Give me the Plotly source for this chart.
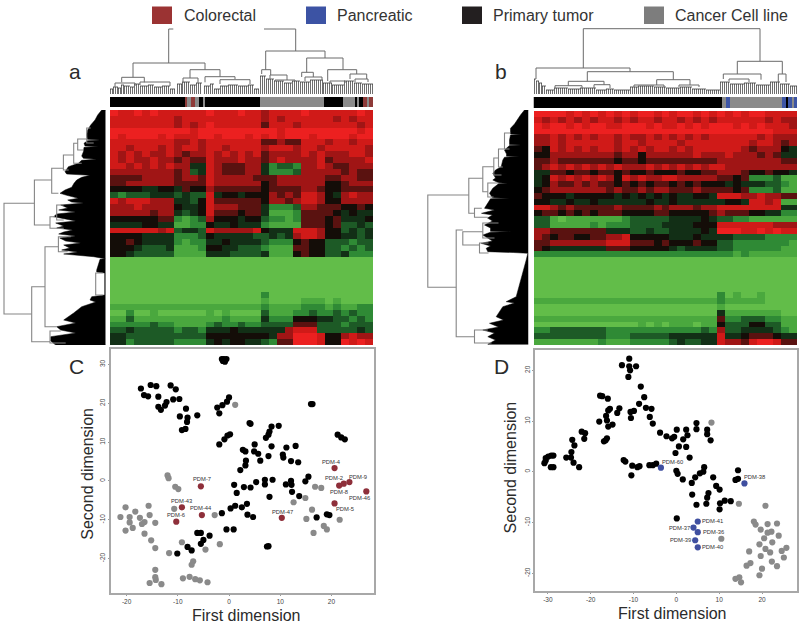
import plotly.graph_objects as go

# ---------- legend ----------
legend_names = ["Colorectal", "Pancreatic", "Primary tumor", "Cancer Cell line"]
legend_colors = ["#9b3333", "#3c53a4", "#231f20", "#7d7d7d"]

# ---------- panel C scatter ----------
c_tumor_x = [-1.4,-1.0,-0.5,-1.2,-0.8,-17.2,-15.3,-14.2,-11.4,-10.4,-16.6,-15.8,-13.8,-10.9,-9.7,0,-0.4,-1.3,-2.3,-1.9,-13.8,-13.3,-12.5,-12.2,-8.4,-9.6,-8.1,-8.2,-6.2,-9.2,-8.5,4.0,4.2,8.3,9.7,7.9,7.7,7.2,0.2,-0.3,-0.9,-1.9,2.7,3.2,5.0,4.9,5.7,6.1,7.7,8.3,11.2,13.0,10.5,10.6,12.1,13.5,3.3,3.2,2.2,21.2,21.9,22.6,16.0,16.3,15.5,14.9,12.1,12.2,11.1,7.0,7.0,8.5,5.3,1.0,2.9,4.2,1.5,12.3,7.9,13.7,3.5,2.5,1.2,0.3,-1.4,3.6,4.7,17.1,19.1,19.6,-0.5,0.9,-6.2,-5.5,-3.8,-5.0,-5.5,-8.1,-7.3,-10.1,7.4,7.7]
c_tumor_y = [31.4,31.4,31.4,30.9,30.7,23.8,24.7,24.4,24.6,23.6,22.1,21.8,21.7,21.0,21.1,21.5,20.4,19.5,18.9,17.4,19.1,18.3,19.4,20.3,18.6,16.6,16.3,15.2,16.9,13.1,13.4,14.9,14.7,14.0,14.2,12.7,11.9,11.1,12.0,11.7,10.7,9.4,8.0,7.6,9.4,7.6,7.0,5.2,6.4,8.9,8.6,9.0,6.8,6.0,5.1,4.8,5.2,4.0,2.8,11.9,11.2,10.7,19.8,19.8,1.1,-0.1,0,-1.0,-0.9,0.3,-0.9,0.3,-0.3,-1.0,-1.6,-1.7,-3.1,-2.8,-4.1,-3.9,-5.9,-6.8,-6.4,-7.1,-8.3,-8.7,-9.3,-9.4,-8.6,-8.8,-12.5,-12.5,-13.4,-13.4,-14.1,-15.2,-16.2,-17.0,-17.9,-18.7,-16.9,-16.8]
c_line_x = [1.2,-12.0,-11.8,-10.5,-9.9,16.8,18.0,14.9,12.6,-15.7,-20.2,-18.3,-10.7,-2.8,-15.5,-21.2,-19.4,-17.4,-19.4,-16.5,-17.0,-14.4,-18.8,-20.2,-16.5,-15.2,-14.4,-11.7,-9.2,-4.6,-1.8,16.2,15.1,21.6,18.5,19.1,16.5,-7.0,-7.3,-14.4,-14.4,-14.3,-15.5,-13.2,-9.0,-7.7,-6.6,-5.7,-4.2]
c_line_y = [19.6,1.4,0.7,-1.5,-2.1,-1.5,-1.8,-4.4,-5.5,-6.4,-6.8,-7.9,-7.2,-8.8,-8.8,-9.3,-9.3,-9.5,-10.7,-10.6,-11.1,-10.8,-12.1,-12.8,-13.6,-15.3,-17.3,-18.6,-15.8,-17.7,-16.3,-7.4,-9.8,-10.0,-11.6,-12.5,-13.4,-20.7,-21.6,-22.9,-24.8,-25.5,-26.3,-26.6,-25.1,-24.7,-25.3,-25.6,-26.1]
c_pdm_names = ["PDM-4","PDM-7","PDM-2","PDM-8","PDM-9","PDM-46","PDM-5","PDM-43","PDM-44","PDM-6","PDM-47"]
c_pdm_x = [20.6,-5.5,21.5,22.4,23.5,26.8,20.6,-9.2,-5.3,-10.3,10.3]
c_pdm_y = [3.3,-1.4,-1.2,-0.7,-0.3,-2.7,-5.8,-6.8,-8.8,-10.5,-9.5]
c_label_x = [20.1,-5.3,20.4,21.5,25.1,25.4,22.6,-9.2,-5.5,-10.4,10.4]
c_label_y = [4.9,0.4,0.7,-2.8,1.0,-4.5,-7.2,-5.2,-7.0,-8.8,-8.0]

# ---------- panel D scatter ----------
d_tumor_x = [-11.0,-12.7,-11.0,-9.4,-10.8,-11.2,-8.3,-7.5,-8.7,-17.8,-17.3,-16.0,-13.3,-15.5,-15.9,-16.4,-13.8,-7.1,-5.8,-10.7,-9.9,-10.6,-6.2,-5.5,-18.0,-16.2,-14.9,-15.9,-22.1,-21.3,-21.5,-16.2,-16.5,-16.9,-3.8,-2.3,-1.0,-0.5,0.1,2.3,2.6,1.6,4.7,4.7,7.2,7.2,8.0,0.6,2.3,-0.2,3.1,-24.3,-23.8,-24.5,-25.7,-24.6,-24.0,-22.7,-29.2,-28.7,-29.9,-30.5,-30.5,-30.8,-29.3,-28.7,-12.3,-11.9,-10.3,-10.5,-9.1,-8.6,-6.3,-5.5,-4.7,0,0.3,1.5,4.4,5.5,6.3,6.5,8.6,3.6,9.3,10.1,3.7,7.5,7.2,7.0,4.7,10.2,11.3,12.7,10.1,0.1,14.4,13.8,14.4]
d_tumor_y = [22.3,21.0,20.8,20.8,20.0,18.7,16.8,14.7,13.4,15.0,14.9,14.4,12.5,12.4,12.1,11.0,11.6,12.6,12.4,11.8,12.0,10.6,10.8,9.5,9.9,10.1,9.3,8.9,7.9,7.6,6.5,6.6,6.2,6.0,7.7,7.0,6.6,6.9,8.3,8.3,7.2,6.4,9.6,8.4,8.3,7.4,6.2,5.0,4.9,3.7,2.8,6.3,5.2,3.9,2.8,2.8,1.8,0.9,3.2,3.2,3.0,2.7,2.2,1.7,0.9,0.9,2.3,2.0,1.2,-0.7,0.9,1.1,1.3,1.3,1.6,0.2,-0.4,-1.5,-1.1,-0.3,0,0.9,-1.1,-2.2,-2.8,-3.5,-4.5,-4.2,-5.1,-6.3,-6.5,-6.2,-5.7,-5.8,-7.4,-9.2,0.3,-1.6,-1.4]
d_line_x = [8.2,14.6,20.8,10.5,18.1,18.5,21.3,23.5,19.7,21.3,22.2,23.9,20.5,22.4,19.4,20.8,21.9,17.0,19.7,24.6,25.7,25.1,22.3,17.3,16.4,20.0,23.5,19.4,13.8,14.7,15.1]
d_line_y = [9.7,-6.3,-6.7,-13.2,-9.8,-10.4,-10.3,-10.2,-11.4,-12.0,-11.8,-12.6,-13.1,-13.9,-14.3,-15.2,-15.9,-15.7,-16.6,-15.6,-15.0,-16.9,-17.7,-18.0,-18.5,-19.1,-18.6,-20.4,-21.1,-20.8,-21.8]
d_pdm_names = ["PDM-60","PDM-38","PDM-41","PDM-37","PDM-36","PDM-39","PDM-40"]
d_pdm_x = [-3.6,15.9,5.0,4.0,5.0,4.4,5.0]
d_pdm_y = [0.8,-2.3,-9.8,-11.0,-11.9,-13.5,-14.9]
d_label_x = [-0.9,18.3,8.4,0.7,8.6,0.9,8.4]
d_label_y = [1.9,-1.1,-9.8,-11.0,-11.9,-13.5,-14.9]

# ---------- heatmaps: digit 0 = green, 5 = black, 9 = red ----------
heat_a_rows = [
"98898988 8888 9 888988 7 8888 988 88 8898",
"88888888 7888 8 888888 7 8788 888 87 8788",
"88888888 7878 9 888888 6 8887 888 88 8878",
"99999999 9989 9 999999 9 9899 999 99 9989",
"98999989 8889 9 899989 8 9899 989 99 9899",
"88888888 7787 8 888888 6 6766 888 78 8788",
"88788878 7887 8 878888 7 8887 887 88 8887",
"87878778 7677 8 787878 6 7777 878 77 7887",
"87877877 6766 8 777877 6 7877 778 67 7778",
"88787878 7744 8 766677 4 2332 778 76 6777",
"77777777 6734 8 766677 4 2223 777 77 6766",
"66667777 6776 8 777776 6 6777 777 66 7766",
"66777777 6666 8 777777 5 6777 777 55 6777",
"55554455 4655 7 666666 5 6666 776 55 6666",
"32333444 3433 8 455455 5 7676 887 54 7877",
"87888777 4435 8 666666 5 7767 887 55 7777",
"77787777 5445 8 777666 4 2223 776 66 5565",
"77777677 4345 8 666566 4 1112 666 65 4544",
"55555566 2123 7 555455 3 2212 666 56 4445",
"44445544 1122 5 445444 2 1111 666 56 3343",
"88888878 3443 8 777778 5 4448 887 55 3434",
"55554444 2223 5 444443 3 4347 887 55 4434",
"55654444 2122 4 454444 3 2225 655 33 3233",
"55543334 1112 5 544333 2 1116 655 33 2323",
"55433333 1111 4 443333 4 1115 655 33 4222",
"00000000 0000 0 000000 0 0000 000 00 0000",
"00000000 0000 0 000000 0 0000 000 00 0000",
"00000000 0000 0 000000 0 0000 000 00 0000",
"00000000 0000 0 000000 0 0000 000 00 0000",
"00000000 0000 0 000000 0 0000 000 00 0000",
"00000000 0000 0 000000 0 0000 000 00 0000",
"00000000 0000 0 000000 2 0000 000 00 0000",
"00000000 0000 0 000000 1 0000 111 01 0000",
"11111111 1111 1 111111 2 1111 222 12 1122",
"00200100 0000 1 010000 3 1112 232 23 2322",
"11311111 1111 1 121111 4 2225 554 43 3232",
"22222322 1111 2 322322 3 3336 663 33 2333",
"33433333 2332 4 445444 4 4478 883 33 3343",
"44333333 3333 5 555555 5 4779 998 55 7877",
"44233333 2222 4 545544 3 2669 998 55 9898",
]
heat_b_rows = [
"99 9989898 989 89989 899898 9898 9988 88",
"87 8787878 878 78878 878787 8888 8878 77",
"98 9989899 889 99898 898989 9989 8988 87",
"99 9999999 999 99999 999999 9999 9998 88",
"77 8787878 878 77878 787878 8888 8787 77",
"77 8788888 878 87888 878888 8888 7887 67",
"65 8787878 878 78788 787888 8887 6777 54",
"55 7777777 767 75777 777877 7877 7676 44",
"66 7666666 656 65666 666666 7777 7777 66",
"67 8787878 787 77878 787878 8777 7777 77",
"44 6656656 656 55655 565566 7776 5565 54",
"45 8787878 758 78778 877777 6656 2223 11",
"45 7667676 656 56566 565655 5454 4433 21",
"56 7777777 676 67677 666766 6656 2223 11",
"65 5545555 545 45454 544554 8887 7877 66",
"55 4454454 444 44544 544444 4554 8878 11",
"88 7676666 676 66676 777677 8888 8888 44",
"56 6565656 665 55566 555556 7666 5544 22",
"33 1011111 112 33333 444454 3322 1111 11",
"33 1111121 222 33334 444555 8888 8887 77",
"77 6666666 444 33433 444454 9998 8989 88",
"76 5665566 778 55555 444544 4433 3322 22",
"66 7777777 888 66656 555655 3322 2222 21",
"65 4444444 666 55555 434444 3322 2222 11",
"22 2222222 222 22222 222222 2212 1111 11",
"00 0000000 000 00000 000000 0000 0000 00",
"00 0000000 000 00000 000000 0000 0000 00",
"00 0000000 000 00000 000000 0000 0000 00",
"00 0000000 000 00000 000000 0000 0000 00",
"00 0000000 000 00000 000000 0000 0000 00",
"00 0000000 000 00000 000000 0000 0000 00",
"00 0000000 000 00000 000000 2010 0100 00",
"11 1111111 111 11111 111111 2111 1100 00",
"00 0000000 000 00000 000000 1000 0000 00",
"00 0000000 000 00000 000000 4111 1111 00",
"11 1111111 111 11111 111111 6223 3322 11",
"00 0000000 000 01010 111011 5333 5533 11",
"22 3333333 222 22222 222232 7334 4443 21",
"33 3333333 222 33333 444444 8445 6665 44",
"11 1111112 111 22222 343344 8776 8998 66",
]

# ---------- sample annotation strips: (type, number of samples); 0 tumor, 1 line, 2 CRC, 3 PDAC ----------
strip_a_runs = [(0,38),(2,1),(1,2),(2,2),(1,2),(0,2),(1,1),(0,28),(1,32),(0,10),(1,6),(0,1),(1,1),(0,2),(2,2),(1,1),(2,2)]
strip_b_runs = [(0,94),(1,2),(3,2),(1,26),(3,2),(0,1),(3,2),(1,1),(3,2)]

# ---------- dendrograms: bracket = (height, pos_low, height_low, pos_high, height_high) ----------
top_a_brackets = [
 (31,23,16.7,95,24.3),(16.7,11.7,11.7,34.3,11.7),(24.3,80,16,110,17.3),(17.3,95,11.7,125,15),
 (14.3,110,10,140,10),(16,73,11,88,11),(43,155.7,24.3,215,36),(36,196.7,21.7,233,24.3),
 (24.3,151.7,20,160.7,19),(21.7,191.7,17,203.3,17),(24.3,217.7,13,246.7,20),(20,240,15,256.7,15),
 (19,160,14,177,14),(11,5,7,25,8),(12,30,9,60,8),(15,245,12,258,12),(14,165,13,185,13),
 (17,195,13,212,13),(13,220,11,235,11),
]
top_a_stubs = [(58.7,31,58.7,65),(58.7,65,63.3,65),(154,65,185.7,65),(185.7,65,185.7,43)]
top_a_leaves = [(0,3,5),(3,8,7),(8,11,6),(11,14,9),(14,20,8),(20,24,7),(24,30,10),(30,38,8),(38,44,9),(44,52,7),(52,60,8),(60,65,5),(67,72,10),(72,80,12),(80,86,9),(86,92,11),(94,100,8),(100,104,10),(104,110,5),(110,118,8),(118,128,9),(128,138,8),(138,144,9),(144,149,5),(150,156,18),(156,164,15),(164,174,13),(174,182,11),(182,190,13),(190,200,12),(200,213,14),(213,222,11),(222,234,9),(234,244,13),(244,252,11),(252,263,10)]

top_b_brackets = [
 (65.3,49.3,26,226,32.7),(26,2,15,96,22.3),(22.3,53.3,12.7,139.3,14.3),(12.7,34.3,8.3,70,9.3),
 (14.3,122.7,9,156,9),(8.3,21,5.5,48,5.5),(32.7,203.3,20,248.3,20),(20,189.3,15,227,14.3),
 (20,244.3,12,252,12),(15,195,13,215,12),(9.3,60,6,76,6),(9,100,7,130,7),(9,145,7,165,7),
]
top_b_stubs = []
top_b_leaves = [(0,2,15),(2,5,13),(5,8,11),(8,12,8),(12,20,4),(20,34,6),(34,46,5),(46,62,6),(62,72,4),(72,80,5),(80,96,4),(96,104,7),(104,120,8),(120,132,7),(132,146,6),(146,158,7),(158,172,5),(172,186,4),(186,196,12),(196,210,10),(210,222,11),(222,236,9),(236,246,12),(246,256,10),(256,264,8)]

left_a_brackets = [
 (101.7,93.3,71.3,204,74),(71.3,70,54,115,55.7),(74,176.7,60.7,231.7,55.7),(54,58.3,42.3,83.3,47.3),
 (55.7,106.7,50.7,118.3,42),(60.7,136.7,47.3,216.7,49),(47.3,126.7,35,141.7,38),(42.3,45,32,60,37),
 (32,33.3,28,53.3,24),(28,29,19,40,22),(19,18,15,33,12),(49,95,42,110,42),(55.7,221,45,233,40),
 (10,163,3,185,3),
]
left_a_fan_pos = [0,5,10,15,20,25,29.3,30,30.7,33.3,36,36.7,37.3,41.7,46,48.3,49.3,50.3,53.3,56.7,61.7,64,65.3,67.3,70,73.3,77.3,80,83.3,85.3,88.3,90,92,93,95,98,100,102,104,106.7,109,111,113,116,118,120,122,124,126,128,131,133,135,138,140,142,144,146.7,148.7,149.3,160,162,163,185,186.7,190,192,196.7,203,206.7,210,213,216.7,220,223,226.7,231,235]
left_a_fan_h = [4,8,10.7,15,18,19,18.3,5.7,18.3,21.7,20.7,7.3,21.7,22.3,24,22.3,9,24,27.3,37.3,40.7,39,15.7,24,29,31.7,34,40.7,45.7,39,27.3,38,34,22,45,38,47,30,49,52,38,30,50,42,49,33,42,47,30,46,40,25,42,36,44,28,42,12,0.5,5.7,9,9,1,1,14,15.7,10,24,32,37,42,30,49,45,30,55,55,50]

left_b_brackets = [
 (100.7,85,59.7,177.3,72.3),(59.7,68.3,45.7,103.3,54),(72.3,120,65.7,226.7,54),(45.7,56.7,34.7,81.7,40.7),
 (54,98.3,46.7,107.3,40.7),(65.7,121.7,45.7,135,49),(54,220,40.7,233,37),(40.7,73,30,87,35),
 (34.7,48,30,65,27),(30,39,24,57,25.7),(24,23,18,39,19),(45.7,113,30,128,34),(49,133,40,143,40),
]
left_b_fan_pos = [0,5,10,14,18.3,22,24,24.5,25,30,34.5,35,35.5,40,44,46.2,46.7,47.2,50,56.7,60,63.3,68,70,72.8,73.3,73.8,78.3,83.3,87.8,88.3,88.8,93.3,98.3,100,103.3,105,108,111,115,118,121.2,121.7,122.2,125,128.3,131,133.3,136,138.3,141.7,142.5,143.3,150,156.7,170,186.7,191.7,193,196.7,206.7,210,213.3,217,220,223,226.7,230,234.3]
left_b_fan_h = [4,8,11.3,14,18,18,18,7,18,19,19,7.3,19,24,22,22,9,24,25.7,27.3,33,35.7,33,35.7,30,20.7,30,35.7,39,36,19,38,40.7,44,34,47,36,41,36,44,38,38,17.3,38,45.7,40.7,36,47.3,38,42.3,40.7,15,0.7,2.3,4,7.3,12.3,22.3,14,25.7,32.3,25,39,30,45.7,34,40.7,33,40.7]

x_ticks_c = [-20,-10,0,10,20]
y_ticks_c = [-20,-10,0,10,20,30]
x_ticks_d = [-30,-20,-10,0,10,20]
y_ticks_d = [-20,-10,0,10,20]

FONT = "Liberation Sans, Arial, sans-serif"
W, H = 800, 625
fig = go.Figure()
layout = {}
axis_count = [0]


def axes(left, right, top, bottom, xr, yr, visible=False, **extra):
    axis_count[0] += 1
    n = axis_count[0]
    xk, yk = ("xaxis", "yaxis") if n == 1 else (f"xaxis{n}", f"yaxis{n}")
    xa = "x" if n == 1 else f"x{n}"
    ya = "y" if n == 1 else f"y{n}"
    layout[xk] = dict(domain=[left / W, right / W], range=xr, anchor=ya, visible=visible, showgrid=False, zeroline=False, **extra.get("x", {}))
    layout[yk] = dict(domain=[1 - bottom / H, 1 - top / H], range=yr, anchor=xa, visible=visible, showgrid=False, zeroline=False, **extra.get("y", {}))
    return xa, ya


def bracket_paths(brackets):
    xs, ys = [], []
    for h, p0, h0, p1, h1 in brackets:
        xs += [p0, p0, p1, p1, None]
        ys += [h0, h, h, h1, None]
    return xs, ys


def top_dendrogram(left, right, leaves, brackets, stubs):
    xa, ya = axes(left, right, 25, 94, [0, right - left], [0, 69])
    lx, ly, cx, cy = [], [], [], []
    for start, end, height in leaves:
        p = start
        while p < end:
            lx += [p + 0.5, p + 0.5, None]
            ly += [0, height, None]
            p += 2
        cx += [start, end, None]
        cy += [height, height, None]
    fig.add_trace(go.Scatter(x=lx, y=ly, mode="lines", line=dict(color="#6e6e6e", width=1), xaxis=xa, yaxis=ya, hoverinfo="skip"))
    fig.add_trace(go.Scatter(x=cx, y=cy, mode="lines", line=dict(color="#3a3a3a", width=0.8), xaxis=xa, yaxis=ya, hoverinfo="skip"))
    bx, by = bracket_paths(brackets)
    for s in stubs:
        bx += [s[0], s[2], None]
        by += [s[1], s[3], None]
    fig.add_trace(go.Scatter(x=bx, y=by, mode="lines", line=dict(color="#6a6a6a", width=1), xaxis=xa, yaxis=ya, hoverinfo="skip"))


def left_dendrogram(left, right, fan_pos, fan_h, brackets):
    xa, ya = axes(left, right, 110, 345, [right - left, 0], [235, 0])
    fx = [0] + fan_h + [0]
    fy = [fan_pos[0]] + fan_pos + [fan_pos[-1]]
    fig.add_trace(go.Scatter(x=fx, y=fy, mode="lines", fill="toself", fillcolor="#000000", line=dict(color="#000000", width=0.5), xaxis=xa, yaxis=ya, hoverinfo="skip"))
    bx, by = bracket_paths(brackets)
    # brackets store (height, low, h_low, high, h_high); height is horizontal here
    fig.add_trace(go.Scatter(x=by, y=bx, mode="lines", line=dict(color="#858585", width=1.1), xaxis=xa, yaxis=ya, hoverinfo="skip"))


HEAT_SCALE = [[0, "#62bd49"], [1 / 9, "#4aa83e"], [2 / 9, "#2f8a35"], [3 / 9, "#1d5a26"], [4 / 9, "#122f16"],
              [5 / 9, "#140d08"], [6 / 9, "#5a1210"], [7 / 9, "#a01515"], [8 / 9, "#d01a18"], [1, "#ec2020"]]


def heat(left, right, top, bottom, rows):
    z = [[int(ch) for ch in "".join(r.split())] for r in rows]
    xa, ya = axes(left, right, top, bottom, [-0.5, len(z[0]) - 0.5], [len(z) - 0.5, -0.5])
    fig.add_trace(go.Heatmap(z=z, zmin=0, zmax=9, colorscale=HEAT_SCALE, showscale=False, xaxis=xa, yaxis=ya, hoverinfo="skip"))


def strip(left, right, top, bottom, runs):
    vals = []
    for kind, count in runs:
        vals += [kind] * count
    xa, ya = axes(left, right, top, bottom, [-0.5, len(vals) - 0.5], [-0.5, 0.5])
    scale = [[0, "#000000"], [1 / 3, "#8a8a8a"], [2 / 3, "#8e3a38"], [1, "#3d55a5"]]
    fig.add_trace(go.Heatmap(z=[vals], zmin=0, zmax=3, colorscale=scale, showscale=False, xaxis=xa, yaxis=ya, hoverinfo="skip"))


def scatter_panel(box, xr, yr, xt, yt, groups, names, lx, ly):
    axis_style = dict(linecolor="#a8a8a8", linewidth=1.5, mirror=True, ticks="outside", ticklen=1, tickcolor="#999999",
                      tickfont=dict(size=6.5, color="#444444", family=FONT))
    xa, ya = axes(*box, xr, yr, visible=True,
                  x=axis_style | dict(tickvals=xt, ticktext=[str(t) for t in xt]),
                  y=axis_style | dict(tickvals=yt, ticktext=[str(t) for t in yt], tickangle=-90))
    for x, y, color in groups:
        fig.add_trace(go.Scatter(x=x, y=y, mode="markers", marker=dict(size=6.2, color=color, line=dict(width=0)), xaxis=xa, yaxis=ya))
    for name, x, y in zip(names, lx, ly):
        annotations.append(dict(text=name, x=x, y=y, xref=xa, yref=ya, showarrow=False, font=dict(size=5.8, color="#333333", family=FONT)))


annotations = []

top_dendrogram(110, 373, top_a_leaves, top_a_brackets, top_a_stubs)
top_dendrogram(534, 797, top_b_leaves, top_b_brackets, top_b_stubs)
left_dendrogram(0, 105.7, left_a_fan_pos, left_a_fan_h, left_a_brackets)
left_dendrogram(423.5, 528.5, left_b_fan_pos, left_b_fan_h, left_b_brackets)
strip(110, 373, 97, 107, strip_a_runs)
strip(533.5, 797, 97, 108, strip_b_runs)
heat(110, 373, 110, 345, heat_a_rows)
heat(534, 797, 111, 345, heat_b_rows)

scatter_panel((110.7, 374, 349.3, 593.3), [-23.1, 28.3], [-28.95, 33.9], x_ticks_c, y_ticks_c,
              [(c_tumor_x, c_tumor_y, "#000000"), (c_line_x, c_line_y, "#8a8a8a"), (c_pdm_x, c_pdm_y, "#8e2f3a")],
              c_pdm_names, c_label_x, c_label_y)
scatter_panel((535, 796.7, 350, 591), [-33.0, 28.1], [-23.5, 24.0], x_ticks_d, y_ticks_d,
              [(d_tumor_x, d_tumor_y, "#000000"), (d_line_x, d_line_y, "#8a8a8a"), (d_pdm_x, d_pdm_y, "#3f4fa0")],
              d_pdm_names, d_label_x, d_label_y)

# page-level text and legend swatches
shapes = []
swatch_left = [152, 306, 462, 644]
text_left = [182, 335, 491, 673]
for name, color, sx, tx in zip(legend_names, legend_colors, swatch_left, text_left):
    shapes.append(dict(type="rect", xref="paper", yref="paper", x0=sx / W, x1=(sx + 20) / W, y0=1 - 24 / H, y1=1 - 6.5 / H, fillcolor=color, line=dict(width=0)))
    annotations.append(dict(text=name, x=tx / W, y=1 - 15 / H, xref="paper", yref="paper", xanchor="left", yanchor="middle", showarrow=False, font=dict(size=16, color="#333333", family=FONT)))


def page_text(text, px, py, size, angle=0):
    annotations.append(dict(text=text, x=px / W, y=1 - py / H, xref="paper", yref="paper", xanchor="center", yanchor="middle", showarrow=False, textangle=angle, font=dict(size=size, color="#2b2b2b", family=FONT)))


page_text("a", 75, 71, 21)
page_text("b", 500.7, 71, 21)
page_text("C", 76, 366, 21)
page_text("D", 501.7, 366, 21)
page_text("First dimension", 245.7, 615, 16)
page_text("First dimension", 671.7, 613, 16)
page_text("Second dimension", 86.7, 474, 16, -90)
page_text("Second dimension", 510.7, 467.7, 16, -90)

fig.update_layout(width=W, height=H, margin=dict(l=0, r=0, t=0, b=0), paper_bgcolor="white", plot_bgcolor="white",
                  showlegend=False, annotations=annotations, shapes=shapes, **layout)
fig.write_html("out.html", config=dict(displayModeBar=False), post_script="document.body.style.margin='0';")
